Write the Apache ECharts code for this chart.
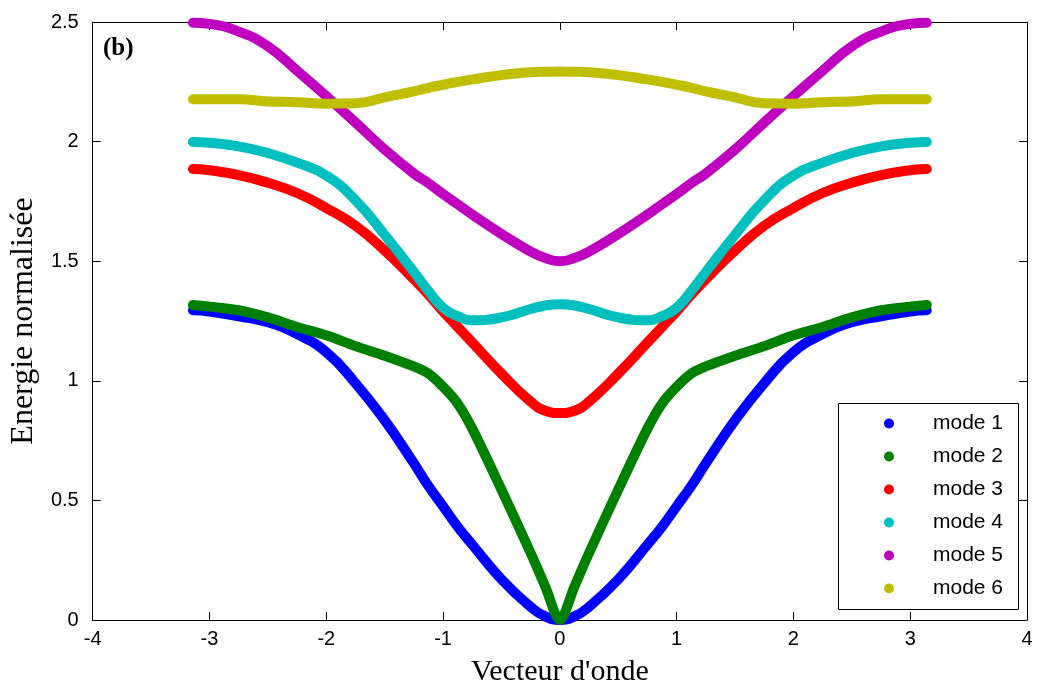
<!DOCTYPE html>
<html>
<head>
<meta charset="utf-8">
<script src="https://cdn.jsdelivr.net/npm/echarts@6/dist/echarts.min.js"></script>
<style>
html,body{margin:0;padding:0;background:#fff;}
#chart{width:1038px;height:693px;}
</style>
</head>
<body>
<div id="chart"></div>
<script>
// Wave vector sample points
var waveVector = [-3.1416,-3,-2.75,-2.5,-2.25,-2,-1.75,-1.5,-1.25,-1.125,-1,-0.875,-0.75,-0.5,-0.25,-0.125,0,
                  0.125,0.25,0.5,0.75,0.875,1,1.125,1.25,1.5,1.75,2,2.25,2.5,2.75,3,3.1416];
var mode1 = [1.295,1.29,1.27,1.245,1.195,1.12,0.99,0.835,0.655,0.56,0.475,0.39,0.315,0.17,0.055,0.015,0,
             0.015,0.055,0.17,0.315,0.39,0.475,0.56,0.655,0.835,0.99,1.12,1.195,1.245,1.27,1.29,1.295];
var mode2 = [1.317,1.31,1.295,1.265,1.225,1.19,1.145,1.105,1.06,1.03,0.975,0.905,0.80,0.545,0.28,0.14,0,
             0.14,0.28,0.545,0.80,0.905,0.975,1.03,1.06,1.105,1.145,1.19,1.225,1.265,1.295,1.31,1.317];
var mode3 = [1.885,1.88,1.86,1.828,1.785,1.722,1.648,1.545,1.425,1.36,1.29,1.225,1.16,1.03,0.913,0.875,0.865,
             0.875,0.913,1.03,1.16,1.225,1.29,1.36,1.425,1.545,1.648,1.722,1.785,1.828,1.86,1.88,1.885];
var mode4 = [1.998,1.995,1.98,1.952,1.912,1.858,1.755,1.61,1.455,1.375,1.305,1.27,1.253,1.265,1.30,1.315,1.32,
             1.315,1.30,1.265,1.253,1.27,1.305,1.375,1.455,1.61,1.755,1.858,1.912,1.952,1.98,1.995,1.998];
var mode5 = [2.497,2.492,2.46,2.398,2.296,2.19,2.08,1.967,1.867,1.826,1.781,1.738,1.695,1.614,1.54,1.513,1.50,
             1.513,1.54,1.614,1.695,1.738,1.781,1.826,1.867,1.967,2.08,2.19,2.296,2.398,2.46,2.492,2.497];
var mode6 = [2.177,2.177,2.177,2.168,2.165,2.158,2.16,2.185,2.21,2.225,2.238,2.25,2.26,2.278,2.29,2.292,2.293,
             2.292,2.29,2.278,2.26,2.25,2.238,2.225,2.21,2.185,2.16,2.158,2.165,2.168,2.177,2.177,2.177];
var seriesNames = ['mode 1','mode 2','mode 3','mode 4','mode 5','mode 6'];
var seriesValues = [mode1, mode2, mode3, mode4, mode5, mode6];
var seriesColors = ['#0000FF','#008000','#FF0000','#00BFBF','#BF00BF','#BFBF00'];
var seriesSmooth = [0.5, 0.3, 0.5, 0.5, 0.5, 0.5];

var chart = echarts.init(document.getElementById('chart'), null, {renderer:'canvas'});

var series = seriesNames.map(function(name, i){
  return {
    name: name,
    type: 'line',
    xAxisIndex: 0,
    yAxisIndex: 0,
    data: waveVector.map(function(k, j){ return [k, seriesValues[i][j]]; }),
    smooth: seriesSmooth[i],
    showSymbol: false,
    symbol: 'circle',
    color: seriesColors[i],
    lineStyle: {width: 10, color: seriesColors[i], cap: 'round', join: 'round'},
    itemStyle: {color: seriesColors[i]},
    emphasis: {disabled: true},
    animation: false
  };
});

var axisLineStyle = {show:true, onZero:false, lineStyle:{color:'#000', width:1}};
var tickStyle = {show:true, inside:true, length:8, lineStyle:{color:'#000', width:1}};

var option = {
  backgroundColor: '#fff',
  animation: false,
  grid: {left: 91, right: 11, top: 22, bottom: 73, containLabel: false},
  legend: {
    data: seriesNames,
    orient: 'vertical',
    left: 884,
    top: 413,
    z: 20,
    icon: 'circle',
    itemWidth: 10,
    itemHeight: 10,
    itemGap: 12,
    padding: 0,
    textStyle: {fontFamily: 'Liberation Sans, Arial, sans-serif', fontSize: 21, color: '#000', lineHeight: 20, padding: [0,0,0,34]},
    selectedMode: false
  },
  xAxis: [{
    type: 'value', min: -4, max: 4, interval: 1, position: 'bottom',
    axisLine: axisLineStyle, axisTick: tickStyle, splitLine: {show:false},
    axisLabel: {fontFamily: 'Liberation Sans, Arial, sans-serif', fontSize: 20, color: '#000', margin: 9},
    name: "Vecteur d'onde", nameLocation: 'middle', nameGap: 37,
    nameTextStyle: {fontFamily: 'Liberation Serif, Times New Roman, serif', fontSize: 30, color: '#000'}
  },{
    type: 'value', min: -4, max: 4, interval: 1, position: 'top',
    axisLine: axisLineStyle, axisTick: tickStyle, splitLine: {show:false},
    axisLabel: {show:false}
  }],
  yAxis: [{
    type: 'value', min: 0, max: 2.5, interval: 0.5, position: 'left',
    axisLine: axisLineStyle, axisTick: tickStyle, splitLine: {show:false},
    axisLabel: {fontFamily: 'Liberation Sans, Arial, sans-serif', fontSize: 20, color: '#000', margin: 14},
    name: 'Energie normalisée', nameLocation: 'middle', nameGap: 45, nameRotate: 90,
    nameTextStyle: {fontFamily: 'Liberation Serif, Times New Roman, serif', fontSize: 32, color: '#000'}
  },{
    type: 'value', min: 0, max: 2.5, interval: 0.5, position: 'right',
    axisLine: axisLineStyle, axisTick: tickStyle, splitLine: {show:false},
    axisLabel: {show:false}
  }],
  graphic: [{
    type: 'rect', left: 838, top: 403, z: 3,
    shape: {width: 180, height: 206},
    style: {fill: '#fff', stroke: '#000', lineWidth: 1}
  },{
    type: 'text', left: 103, top: 36, z: 10,
    style: {text: '(b)', font: 'bold 25px "Liberation Serif", "Times New Roman", serif', fill: '#000'}
  }],
  series: series
};
chart.setOption(option);
</script>
</body>
</html>
